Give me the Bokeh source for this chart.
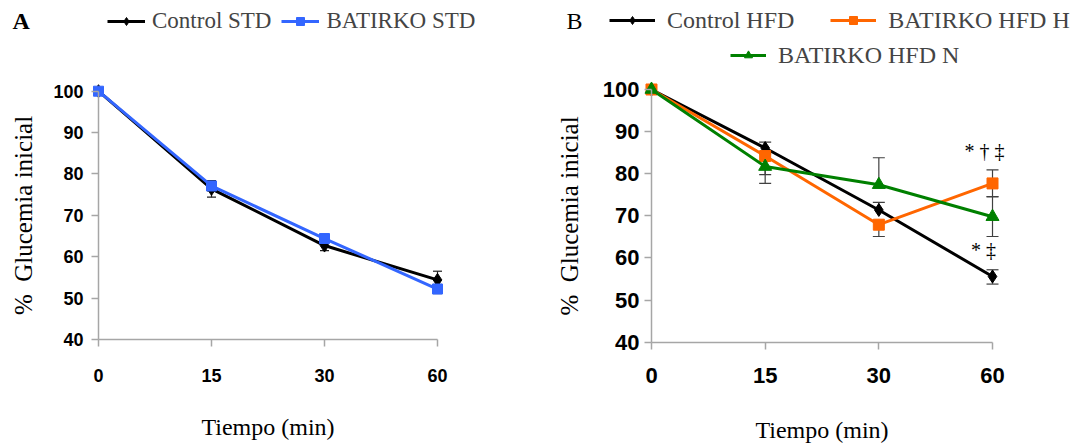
from bokeh.plotting import figure
from bokeh.layouts import row
from bokeh.models import (Range1d, FixedTicker, Whisker, TeeHead, ColumnDataSource,
                          Legend, LegendItem, Label)
from bokeh.core.properties import value
from bokeh.embed import file_html
from bokeh.resources import INLINE

# ---------------- data ----------------
time_labels = ["0", "15", "30", "60"]
idx = [0, 1, 2, 3]
y_ticks = [40, 50, 60, 70, 80, 90, 100]

# Panel A
control_std = [100, 76.4, 62.7, 54.4]
control_std_up = [0, 2.0, 1.2, 2.1]
control_std_dn = [0, 2.0, 1.2, 2.0]
batirko_std = [100, 77.1, 64.4, 52.2]
batirko_std_up = [0, 1.2, 0.7, 1.1]
batirko_std_dn = [0, 1.2, 0.7, 1.1]

# Panel B
control_hfd = [100, 86.1, 71.4, 55.6]
control_hfd_up = [0, 1.4, 1.8, 1.6]
control_hfd_dn = [0, 1.4, 0, 1.8]
hfd_h = [100, 84.2, 67.9, 77.7]
hfd_h_up = [0, 0, 0, 3.2]
hfd_h_dn = [0, 4.4, 2.8, 3.2]
hfd_n = [100, 81.7, 77.4, 69.8]
hfd_n_up = [0, 0, 6.4, 4.8]
hfd_n_dn = [0, 4.0, 0, 4.7]

sig_labels = ["* \u2020 \u2021", "* \u2021"]
sig_x = [2.93, 2.92]
sig_y = [85.4, 62.0]

SERIF = "Liberation Serif"
AXIS_GRAY = "#a6a6a6"
H = 447


def style_axes(p, tick_size, x_standoff, y_standoff, ylab_standoff, xlab_standoff, ylab_size):
    p.xaxis.ticker = FixedTicker(ticks=idx)
    p.xaxis.major_label_overrides = {i: t for i, t in zip(idx, time_labels)}
    p.xaxis.bounds = (0, 3)
    p.xaxis.fixed_location = 40
    p.yaxis.ticker = FixedTicker(ticks=y_ticks)
    p.yaxis.bounds = (40, 100)
    p.yaxis.fixed_location = 0
    for ax in (p.xaxis, p.yaxis):
        ax.axis_line_color = AXIS_GRAY
        ax.axis_line_width = 1.5
        ax.major_tick_line_color = AXIS_GRAY
        ax.major_tick_line_width = 1.5
        ax.major_tick_in = 0
        ax.major_tick_out = 7
        ax.minor_tick_line_color = None
        ax.major_label_text_font = "Liberation Sans"
        ax.major_label_text_font_size = tick_size
        ax.major_label_text_font_style = "bold"
        ax.major_label_text_color = "black"
        ax.axis_label_text_font = SERIF
        ax.axis_label_text_font_style = "normal"
        ax.axis_label_text_font_size = "24px"
        ax.axis_label_text_color = "black"
    p.yaxis.axis_label_text_font_size = ylab_size
    p.xaxis.major_label_standoff = x_standoff
    p.yaxis.major_label_standoff = y_standoff
    p.xaxis.axis_label = "Tiempo (min)"
    p.yaxis.axis_label = "% \u00a0Glucemia inicial"
    p.xaxis.axis_label_standoff = xlab_standoff
    p.yaxis.axis_label_standoff = ylab_standoff
    p.xgrid.visible = False
    p.ygrid.visible = False
    p.outline_line_color = None


def add_errors(p, ys, ups, dns, color, head):
    bu = [i for i, u in zip(idx, ups) if u > 0]
    yu = [y for y, u in zip(ys, ups) if u > 0]
    uu = [y + u for y, u in zip(ys, ups) if u > 0]
    bd = [i for i, d in zip(idx, dns) if d > 0]
    yd = [y for y, d in zip(ys, dns) if d > 0]
    dd = [y - d for y, d in zip(ys, dns) if d > 0]
    su = ColumnDataSource(dict(base=bu, lower=yu, upper=uu))
    sd = ColumnDataSource(dict(base=bd, lower=dd, upper=yd))
    p.add_layout(Whisker(source=su, base="base", lower="lower", upper="upper",
                         line_color=color, line_width=1.2, lower_head=None,
                         upper_head=TeeHead(size=head, line_color=color, line_width=1.2)))
    p.add_layout(Whisker(source=sd, base="base", lower="lower", upper="upper",
                         line_color=color, line_width=1.2, upper_head=None,
                         lower_head=TeeHead(size=head, line_color=color, line_width=1.2)))


def series(p, ys, color, marker, size):
    l = p.line(idx, ys, line_color=color, line_width=3)
    s = p.scatter(idx, ys, marker=marker, size=size, fill_color=color, line_color=color)
    return [l, s]


def make_legend(items, loc, glyph_w, standoff, spacing, size):
    return Legend(items=items, location=loc, orientation="horizontal",
                  label_text_font=SERIF, label_text_font_size=size,
                  glyph_width=glyph_w, glyph_height=20, label_standoff=standoff,
                  spacing=spacing, padding=0, margin=0,
                  border_line_alpha=0, background_fill_alpha=0)


def panel_label(text, x, style):
    return Label(x=x, y=H - 20, x_units="screen", y_units="screen", text=text,
                 text_font=SERIF, text_font_style=style, text_font_size="24px",
                 text_baseline="middle", text_color="black")


# ---------------- Panel A ----------------
pA = figure(width=540, height=H, title=None,
            min_border_left=0, min_border_right=0, min_border_top=0, min_border_bottom=0,
            x_range=Range1d(-0.8673, 3.9115), y_range=Range1d(13.90, 121.92),
            output_backend="svg", toolbar_location=None)
style_axes(pA, "18px", 23, 8, 13, 28, "25px")
add_errors(pA, control_std, control_std_up, control_std_dn, "#202020", 9)
add_errors(pA, batirko_std, batirko_std_up, batirko_std_dn, "#202020", 9)
rA1 = series(pA, control_std, "black", "diamond", 13)
rA2 = series(pA, batirko_std, "#3366FF", "square", 10)
pA.add_layout(make_legend([LegendItem(label="Control STD", renderers=rA1),
                           LegendItem(label="BATIRKO STD", renderers=rA2)],
                          (107, H - 33.5), 38, 7, 10, "23px"))
pA.add_layout(panel_label("A", 12, "bold"))

# ---------------- Panel B ----------------
pB = figure(width=537, height=H, title=None,
            min_border_left=0, min_border_right=0, min_border_top=0, min_border_bottom=0,
            x_range=Range1d(-0.9765, 3.7477), y_range=Range1d(15.0, 121.13),
            output_backend="svg", toolbar_location=None)
style_axes(pB, "22px", 19, 5, 17, 30, "25px")
add_errors(pB, control_hfd, control_hfd_up, control_hfd_dn, "#404040", 12)
add_errors(pB, hfd_h, hfd_h_up, hfd_h_dn, "#404040", 12)
add_errors(pB, hfd_n, hfd_n_up, hfd_n_dn, "#404040", 12)
rB1 = series(pB, control_hfd, "black", "diamond", 13)
rB2 = series(pB, hfd_h, "#FF6600", "square", 11)
rB3 = series(pB, hfd_n, "#008000", "triangle", 13)
pB.text(x=sig_x, y=sig_y, text=sig_labels, text_font=value(SERIF),
        text_font_size=value("20px"), text_align="center", text_baseline="middle",
        text_color="black")
pB.add_layout(make_legend([LegendItem(label="Control HFD", renderers=rB1),
                           LegendItem(label="BATIRKO HFD H", renderers=rB2)],
                          (69, H - 33.5), 46, 12, 36, "24px"))
pB.add_layout(make_legend([LegendItem(label="BATIRKO HFD N", renderers=rB3)],
                          (190, H - 68.5), 36, 12, 10, "24px"))
pB.add_layout(panel_label("B", 26, "normal"))

layout = row(pA, pB)
open("out.html", "w").write(file_html(layout, INLINE))
